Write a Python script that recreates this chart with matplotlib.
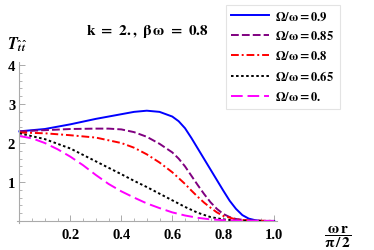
import matplotlib
matplotlib.use("Agg")
import matplotlib.pyplot as plt
from matplotlib.ticker import MultipleLocator

plt.rcParams['mathtext.fontset'] = 'stix'
plt.rcParams['font.family'] = ['Liberation Serif', 'DejaVu Serif']
plt.rcParams['font.weight'] = 'bold'

x09 = [0, 0.1, 0.2, 0.3, 0.4, 0.45, 0.5, 0.55, 0.6, 0.625, 0.65, 0.675, 0.7, 0.725, 0.75,
       0.775, 0.8, 0.825, 0.85, 0.875, 0.9, 0.925, 0.95, 1.0]
y09 = [2.3, 2.36, 2.48, 2.62, 2.74, 2.8, 2.83, 2.8, 2.68, 2.56, 2.38, 2.13, 1.86, 1.59, 1.32,
       1.05, 0.78, 0.52, 0.31, 0.15, 0.06, 0.02, 0.0, 0.0]

x085 = [0, 0.1, 0.2, 0.3, 0.35, 0.4, 0.45, 0.5, 0.55, 0.6, 0.625, 0.65, 0.675, 0.7, 0.725,
        0.75, 0.775, 0.8, 0.825, 0.85, 0.9, 0.95, 1.0]
y085 = [2.3, 2.33, 2.36, 2.37, 2.37, 2.35, 2.28, 2.16, 1.98, 1.76, 1.6, 1.4, 1.16, 0.92, 0.69,
        0.48, 0.31, 0.18, 0.1, 0.05, 0.01, 0.0, 0.0]

x08 = [0, 0.1, 0.2, 0.3, 0.4, 0.45, 0.5, 0.55, 0.6, 0.625, 0.65, 0.675, 0.7, 0.725, 0.75,
       0.775, 0.8, 0.85, 0.9, 1.0]
y08 = [2.27, 2.25, 2.2, 2.14, 2.0, 1.88, 1.71, 1.5, 1.25, 1.1, 0.95, 0.78, 0.62, 0.47, 0.34,
       0.22, 0.13, 0.04, 0.01, 0.0]

x065 = [0, 0.1, 0.2, 0.3, 0.4, 0.45, 0.5, 0.55, 0.6, 0.65, 0.7, 0.75, 0.8, 0.85, 0.9, 1.0]
y065 = [2.25, 2.1, 1.86, 1.53, 1.2, 1.03, 0.87, 0.7, 0.53, 0.36, 0.21, 0.1, 0.04, 0.01, 0.0, 0.0]

x0 = [0, 0.05, 0.1, 0.15, 0.2, 0.25, 0.3, 0.35, 0.4, 0.45, 0.5, 0.55, 0.6, 0.65, 0.7, 0.75,
      0.8, 0.9, 1.0]
y0 = [2.18, 2.12, 2.0, 1.84, 1.65, 1.43, 1.18, 0.95, 0.76, 0.6, 0.45, 0.33, 0.22, 0.14, 0.08,
      0.04, 0.02, 0.005, 0.0]

labels = [r'$\mathbf{\Omega/\omega = 0.9}$', r'$\mathbf{\Omega/\omega = 0.85}$',
          r'$\mathbf{\Omega/\omega = 0.8}$', r'$\mathbf{\Omega/\omega = 0.65}$',
          r'$\mathbf{\Omega/\omega = 0.}$']

fig = plt.figure(figsize=(3.74, 2.51), dpi=100)
ax = fig.add_axes([0.045, 0.108, 0.695, 0.641])

lw = 1.4
ax.plot(x09, y09, color='#0000ff', lw=lw, ls='-', label=labels[0])
ax.plot(x085, y085, color='#800080', lw=lw, ls=(0, (4, 1.6)), label=labels[1])
ax.plot(x08, y08, color='#ff0000', lw=lw, ls=(0, (4, 1.5, 1, 1.5)), label=labels[2])
ax.plot(x065, y065, color='black', lw=lw, ls=(0, (1.3, 1.3)), label=labels[3])
ax.plot(x0, y0, color='#ff00ff', lw=lw, ls=(0, (6, 2.5)), label=labels[4])

ax.set_xlim(-0.01, 1.01)
ax.set_ylim(-0.05, 4.08)
for s in ['top', 'right']:
    ax.spines[s].set_visible(False)
ax.spines['left'].set_position(('data', 0))
ax.spines['bottom'].set_position(('data', 0))
for s in ['left', 'bottom']:
    ax.spines[s].set_color('#aaaaaa')
    ax.spines[s].set_linewidth(0.8)

ax.xaxis.set_minor_locator(MultipleLocator(0.05))
ax.yaxis.set_minor_locator(MultipleLocator(0.2))
ax.set_xticks([0.2, 0.4, 0.6, 0.8, 1.0])
ax.set_yticks([1, 2, 3, 4])
ax.tick_params(which='both', direction='in', color='#aaaaaa', labelsize=10.5)
ax.tick_params(which='major', length=4, width=0.7)
ax.tick_params(which='minor', length=2, width=0.6)
ax.tick_params(axis='x', pad=5)
ax.tick_params(axis='y', pad=3)
ax.set_xticklabels(['0.2', '0.4', '0.6', '0.8', '1.0'], fontweight='bold', fontsize=10.5)
ax.set_yticklabels(['1', '2', '3', '4'], fontweight='bold', fontsize=10.5)

fig.text(0.395, 0.875, r'$\mathbf{k\ =\ 2.,\ \beta\,\omega\ =\ 0.8}$', fontsize=11,
         ha='center', va='center')
fig.text(0.018, 0.82, r'$\mathbfit{T}_{\hat{\mathit{t}}\,\hat{\mathit{t}}}$', fontsize=11.5,
         ha='left', va='center')
fig.text(0.902, 0.055, r'$\mathbf{\dfrac{\omega\, r}{\pi\,/\,2}}$', fontsize=11,
         ha='center', va='center')

leg = fig.legend(loc='upper left', bbox_to_anchor=(0.603, 0.978), fontsize=9,
                 frameon=True, fancybox=False, handlelength=3.0, borderpad=0.45,
                 labelspacing=0.55, handletextpad=0.5, borderaxespad=0)
leg.get_frame().set_edgecolor('#dddddd')
leg.get_frame().set_linewidth(0.8)

fig.savefig('out.png', dpi=100)
